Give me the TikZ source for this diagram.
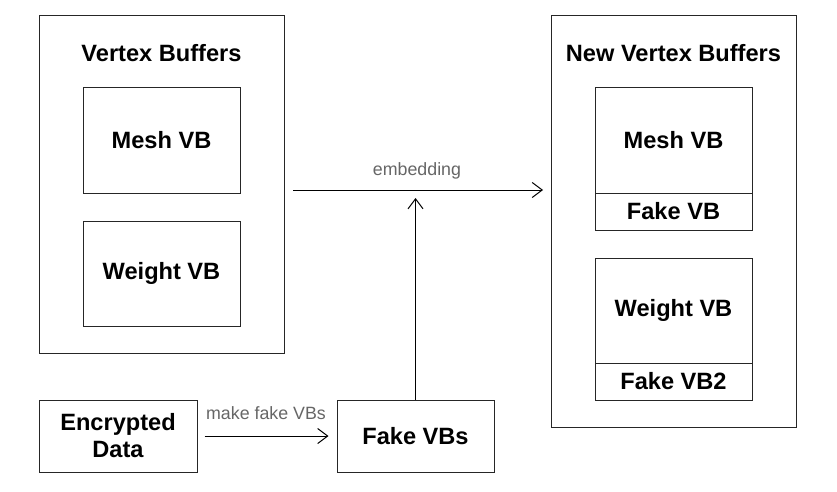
\documentclass[tikz,border=0pt]{standalone}
\usepackage{fontspec}
\setmainfont{Liberation Sans}
\usepackage{xcolor}
\usetikzlibrary{arrows.meta}
\definecolor{lblgray}{HTML}{666666}

\tikzset{
  frame/.style={draw=black!85,line width=1pt,inner sep=0pt},
  vbbox/.style={frame,minimum width=157pt,align=center,font=\bfseries\fontsize{23.6}{27}\selectfont},
  heading/.style={font=\bfseries\fontsize{23.6}{27}\selectfont},
  flow/.style={line width=1pt,-{Straight Barb[length=10pt,width=15pt]}},
  lbl/.style={text=lblgray,font=\fontsize{17.8}{20}\selectfont}
}

\begin{document}
\begin{tikzpicture}[x=1pt,y=-1pt]
    \useasboundingbox (0,0) rectangle (837,492);
    % original buffers
    \node[frame,minimum width=245pt,minimum height=337pt] (vb) at (161.5,184.5) {};
    \node[heading] (vbtitle) at (161.5,53) {Vertex Buffers};
    \node[vbbox,minimum height=105pt] (meshvb) at (161.5,140.5) {Mesh VB};
    \node[vbbox,minimum height=105pt] (weightvb) at (161.5,273.5) {Weight VB};
    % new buffers
    \node[frame,minimum width=245pt,minimum height=411pt] (nvb) at (673.5,221.5) {};
    \node[heading] (nvbtitle) at (673.5,53) {New Vertex Buffers};
    \node[vbbox,minimum height=105pt] (nmeshvb) at (673.5,140.5) {Mesh VB};
    \node[vbbox,minimum height=37pt] (nfakevb) at (673.5,211.5) {Fake VB};
    \node[vbbox,minimum height=105pt] (nweightvb) at (673.5,310.5) {Weight VB};
    \node[vbbox,minimum height=37pt] (nfakevbb) at (673.5,381.5) {Fake VB2};
    % inputs
    \node[vbbox,minimum width=158pt,minimum height=72pt] (encdata) at (118,436) {Encrypted\\Data};
    \node[vbbox,minimum height=72pt] (fakevbs) at (415.5,436) {Fake VBs};
    % connectors
    \coordinate (embfrom) at (293,190);
    \coordinate (embto) at (543,190);
    \coordinate (embjoin) at (415.5,198);
    \draw[flow] (embfrom) -- (embto);
    \node[lbl] (emblbl) at (417,171) {embedding};
    \draw[flow] (fakevbs.north) -- (embjoin);
    \draw[flow,shorten <=7pt,shorten >=8pt] (encdata) -- (fakevbs);
    \node[lbl] (makelbl) at (266,413) {make fake VBs};
\end{tikzpicture}
\end{document}
